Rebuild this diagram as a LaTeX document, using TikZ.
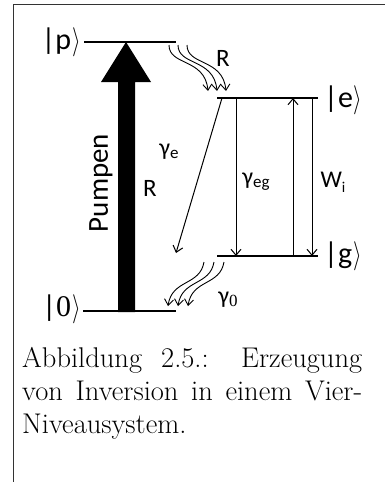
\documentclass[tikz,border=0pt]{standalone}
\usepackage{graphicx}
\usepackage{fontspec}
\newfontfamily\cali{Carlito}
\newfontfamily\tms{Liberation Serif}
\usetikzlibrary{arrows.meta}
\newcommand\myrang{\kern1pt\scalebox{2.2}[2.9]{\fontsize{10}{10}\selectfont$\rangle$}}
\begin{document}
\begin{tikzpicture}[x=1pt,y=-1pt,
  lvl/.style={line width=2pt},
  tarr/.style={line width=1pt,-{Straight Barb[length=6pt,width=10pt]}},
  wav/.style={line width=0.9pt,-{Straight Barb[length=6pt,width=9pt]}},
  lab/.style={inner sep=0pt,font=\cali\fontsize{25}{28}\selectfont},
  glab/.style={inner sep=0pt,font=\cali\fontsize{24}{28}\selectfont},
  ket/.style={inner sep=0pt,font=\cali\fontsize{30}{34}\selectfont},
  captxt/.style={inner sep=0pt,anchor=base west,font=\fontsize{28.5}{33}\selectfont}]
\useasboundingbox (0,0) rectangle (385,482);
% frame
\coordinate (fb) at (13,492); \coordinate (fc) at (13,4); \coordinate (fr) at (390,4);
\draw[line width=1pt,black!80] (fb) -- (fc) -- (fr);
% levels
\coordinate (pL) at (84,42);  \coordinate (pR) at (176,42);
\coordinate (zL) at (83,311); \coordinate (zR) at (176,311);
\coordinate (eL) at (217,98); \coordinate (eR) at (318,98);
\coordinate (gL) at (217,256);\coordinate (gR) at (318,256);
\draw[lvl] (pL) -- (pR);
\draw[lvl] (zL) -- (zR);
\draw[lvl] (eL) -- (eR);
\draw[lvl] (gL) -- (gR);
% pump arrow
\fill (118,312) -- (118,82) -- (101,82) -- (126,42) -- (151,82) -- (135,82) -- (135,312) -- cycle;
% transitions
\coordinate (a1) at (222,98);  \coordinate (b1) at (176,253);
\coordinate (a2) at (236,98);  \coordinate (b2) at (236,256);
\coordinate (a3) at (293,256); \coordinate (b3) at (293,98);
\coordinate (a4) at (312,98);  \coordinate (b4) at (312,256);
\draw[tarr] (a1) -- (b1);
\draw[tarr] (a2) -- (b2);
\draw[tarr] (a3) -- (b3);
\draw[tarr] (a4) -- (b4);
% wavy R
\foreach \d in {0,9,18}{
  \coordinate (ws) at ({169+\d},45);
  \coordinate (we) at ({208+\d},91);
  \draw[wav] (ws) .. controls ({169+\d},66) and ({205+\d},58) .. (we);
}
% wavy gamma0
\foreach \d in {0,10,20}{
  \coordinate (vs) at ({204+\d},262);
  \coordinate (ve) at ({168+\d},306);
  \draw[wav] (vs) .. controls ({200+\d},286) and ({172+\d},279) .. (ve);
}
% labels
\node[ket,anchor=east] (kp) at (81,42) {|p\myrang};
\node[ket,anchor=east] (k0) at (81,309) {|{\tms 0}\myrang};
\node[ket,anchor=west] (ke) at (324,100) {|e\myrang};
\node[ket,anchor=west] (kg) at (324,256) {|g\myrang};
\node[lab,rotate=90,font=\cali\fontsize{29}{30}\selectfont] (pump) at (101,183) {Pumpen};
\node[lab] (R1) at (150,188) {R};
\node[lab] (R2) at (223,58) {R};
\node[glab] (ge) at (169,152) {γ\raisebox{-3pt}{\fontsize{17}{17}\selectfont e}};
\node[glab] (geg) at (256,182) {γ\raisebox{-3pt}{\fontsize{17}{17}\selectfont eg}};
\node[glab] (wi) at (333,182) {W\raisebox{-5pt}{\fontsize{15}{15}\selectfont i}};
\node[glab] (g0) at (228,300) {γ\raisebox{-3pt}{\tms\fontsize{17}{17}\selectfont 0}};
% caption
\node[captxt] (c1) at (22,367) {\makebox[340pt][s]{Abbildung 2.5.: Erzeugung}};
\node[captxt] (c2) at (22,400) {\makebox[340pt][s]{von Inversion in einem Vier-}};
\node[captxt] (c3) at (22,433) {Niveausystem.};
\end{tikzpicture}
\end{document}
